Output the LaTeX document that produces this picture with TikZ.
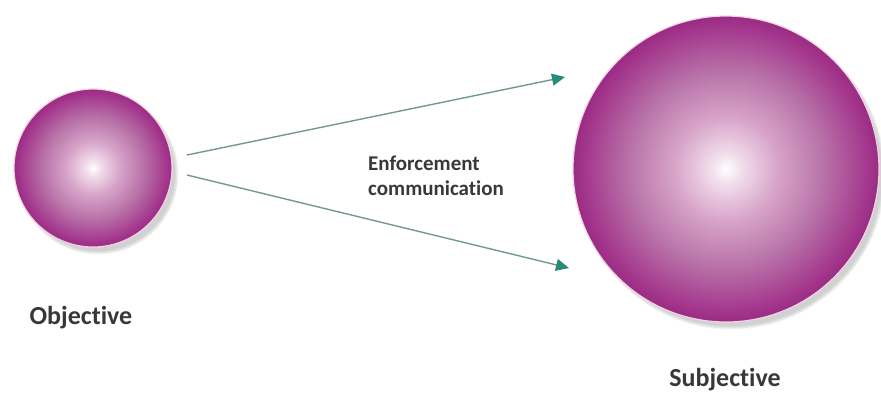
\documentclass[tikz,border=0pt]{standalone}
\usepackage{fontspec}
\setmainfont{Carlito}[Ligatures={NoCommon}]
\usetikzlibrary{arrows.meta,shadows.blur,positioning}

\definecolor{sphA}{HTML}{F2DEEB}
\definecolor{sphB}{HTML}{D7A4C9}
\definecolor{sphC}{HTML}{B872A8}
\definecolor{sphD}{HTML}{A4388D}
\definecolor{sphE}{HTML}{9A2B84}
\definecolor{rim}{HTML}{F4D2E6}
\definecolor{linecol}{HTML}{6E9A92}
\definecolor{tipcol}{HTML}{2A8A78}
\definecolor{txt}{HTML}{383838}

% path box maps to the middle 50bp, so the rim sits at 25bp
\pgfdeclareradialshading{sphere}{\pgfpoint{0bp}{0bp}}{%
  color(0bp)=(white); color(2.5bp)=(sphA); color(8.5bp)=(sphB);
  color(16bp)=(sphC); color(23bp)=(sphD); color(25bp)=(sphE); color(50bp)=(sphE)}

\tikzset{
  ball/.style={circle,shading=sphere,draw=rim,line width=1.2pt,inner sep=0pt,
    blur shadow={shadow xshift=5pt,shadow yshift=-6pt,shadow opacity=18,shadow blur steps=10}},
  flow/.style={draw=linecol,line width=1.4pt,
    -{Triangle[length=13pt,width=12pt,color=tipcol]}},
  lbl/.style={text=txt,inner sep=0pt,font=\bfseries\fontsize{26}{30}\selectfont}
}

\begin{document}
\begin{tikzpicture}[x=1pt,y=-1pt]
  \useasboundingbox (0,0) rectangle (881,392);

  \node[ball,minimum size=158] (obj) at (93,168) {};
  \node[ball,minimum size=306] (subj) at (726,169) {};

  \node[lbl] (objlbl) at (81,318) {Objective};
  \node[lbl] (subjlbl) at (725,380) {Subjective};

  \node[text=txt,inner sep=0pt,anchor=west,align=left,
    font=\bfseries\fontsize{21}{25}\selectfont] (comm) at (368,176)
    {Enforcement\\communication};

  % arrow ends
  \coordinate (s1) at (187,155);
  \coordinate (s2) at (187,175);
  \coordinate (e1) at (565,77);
  \coordinate (e2) at (569,268);

  \draw[flow] (s1) -- (e1);
  \draw[flow] (s2) -- (e2);
\end{tikzpicture}
\end{document}
